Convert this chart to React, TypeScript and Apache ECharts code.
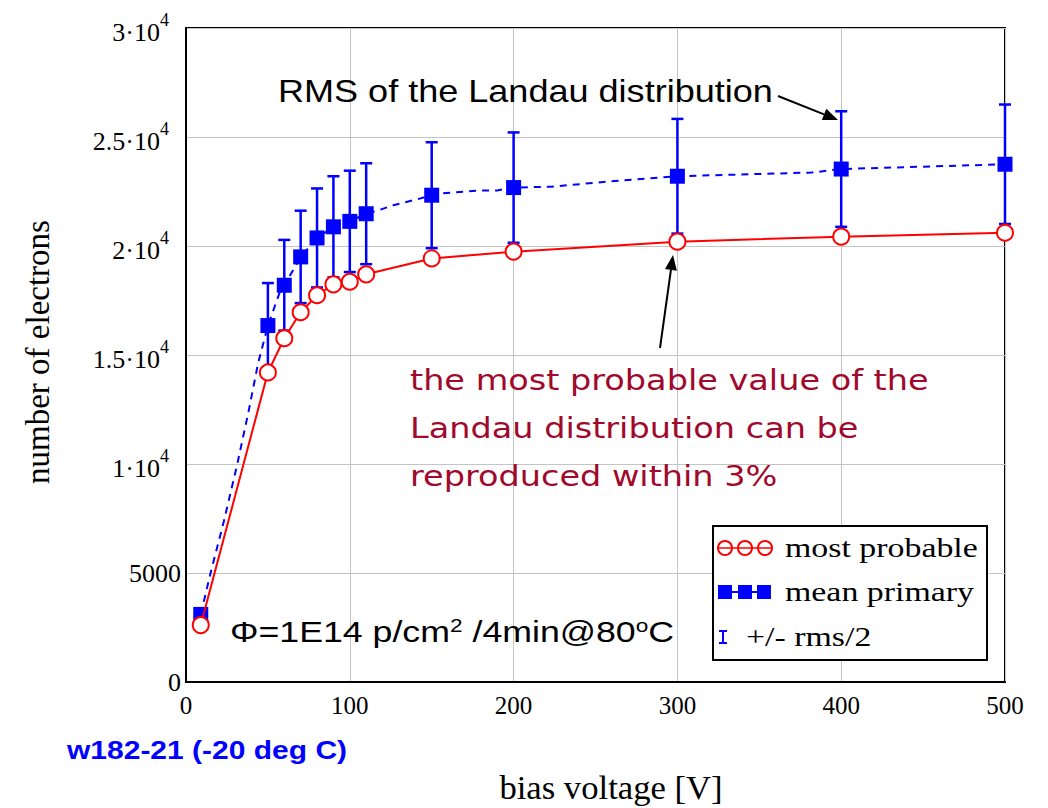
import React, { useEffect, useRef } from "react";
import * as echarts from "echarts";

// ---- data ----
const voltage = [9, 50, 60, 70, 80, 90, 100, 110, 150, 200, 300, 400, 500];
const mostProbable = [2610, 14200, 15770, 16960, 17740, 18240, 18360, 18700, 19430, 19740, 20200, 20430, 20610];
const meanPrimary = [3100, 16350, 18200, 19500, 20370, 20880, 21130, 21480, 22330, 22680, 23200, 23530, 23750];
const halfRms = [null, 1950, 2080, 2120, 2270, 2320, 2325, 2315, 2430, 2530, 2630, 2650, 2740];

// vertices of the dashed (mean primary) curve
const dashedV = [9, 15, 23, 31, 38, 44, 50, 57, 60, 67, 70, 80, 90, 100, 110, 118, 127, 141, 150, 157, 180, 190, 200, 223, 257, 300, 382, 400, 500];
const dashedY = [3100, 5000, 7340, 9890, 12340, 14620, 16350, 17830, 18200, 19100, 19500, 20370, 20880, 21130, 21480, 21650, 21880, 22140, 22330, 22420, 22550, 22550, 22680, 22720, 22950, 23200, 23370, 23530, 23750];

const xTicks = [0, 100, 200, 300, 400, 500];
const yTickLabels = ["0", "5000", "{m|1·10}{e|4}", "{m|1.5·10}{e|4}", "{m|2·10}{e|4}", "{m|2.5·10}{e|4}", "{m|3·10}{e|4}"];

const legendLabels = ["most probable", "mean primary", "+/- rms/2"];
const annotationRms = "RMS of the Landau distribution";
const annotationMp = "the most probable value of the\nLandau distribution can be\nreproduced within 3%";
const sampleLabel = "w182-21 (-20 deg C)";

const BLUE = "#0000ff";
const RED = "#ff0000";
const SERIF = "'Liberation Serif', 'Times New Roman', serif";
const SANS = "'Liberation Sans', Arial, sans-serif";

function arrow(x1: number, y1: number, x2: number, y2: number) {
  const dx = x2 - x1, dy = y2 - y1;
  const len = Math.sqrt(dx * dx + dy * dy);
  const ux = dx / len, uy = dy / len;
  const hl = 15, hw = 6;
  const bx = x2 - ux * hl, by = y2 - uy * hl;
  return [
    { type: "line", shape: { x1, y1, x2: bx, y2: by }, style: { stroke: "#000", lineWidth: 2 }, z: 20 },
    {
      type: "polygon",
      shape: { points: [[x2, y2], [bx - uy * hw, by + ux * hw], [bx + uy * hw, by - ux * hw]] },
      style: { fill: "#000" },
      z: 20,
    },
  ];
}

export default function App() {
  const ref = useRef<HTMLDivElement>(null);
  useEffect(() => {
    const chart = echarts.init(ref.current!, null, { renderer: "svg" });
    const errData = voltage
      .map((v, i) => (halfRms[i] == null ? null : [v, meanPrimary[i] - (halfRms[i] as number), meanPrimary[i] + (halfRms[i] as number)]))
      .filter((d) => d != null);

    const legendX = 713, legendY = 526;
    const legendText = (text: string, x: number, y: number) => ({
      type: "text", x, y, z: 31, scaleX: 1.21,
      style: { text, font: `28px ${SERIF}`, fill: "#000", verticalAlign: "middle" },
    });
    const graphic: any[] = [
      // y axis title
      {
        type: "text", x: 38, y: 352, rotation: Math.PI / 2,
        style: { text: "number of electrons", font: `33px ${SERIF}`, fill: "#000", align: "center", verticalAlign: "middle" },
      },
      // x axis title
      {
        type: "text", x: 611, y: 788, scaleX: 1.05,
        style: { text: "bias voltage [V]", font: `33px ${SERIF}`, fill: "#000", align: "center", verticalAlign: "middle" },
      },
      // sample label
      {
        type: "text", x: 67, y: 750, scaleX: 1.2,
        style: { text: sampleLabel, font: `bold 25px ${SANS}`, fill: BLUE, align: "left", verticalAlign: "middle" },
      },
      // RMS annotation
      {
        type: "text", x: 278, y: 91, scaleX: 1.163, z: 20,
        style: { text: annotationRms, font: `31px ${SANS}`, fill: "#000", align: "left", verticalAlign: "middle" },
      },
      ...arrow(778, 96, 838, 120),
      // most probable annotation
      {
        type: "text", x: 410, y: 356, scaleX: 1.156, z: 20,
        style: { text: annotationMp, font: `29px 'DejaVu Sans', Verdana, sans-serif`, fill: "#a0092c", align: "left", verticalAlign: "top", lineHeight: 48 },
      },
      ...arrow(660, 348, 673, 255),
      // fluence annotation
      {
        type: "text", x: 230, y: 632, scaleX: 1.19, z: 20,
        style: {
          text: "Φ=1E14 p/cm{s|2} /4min@80{s|o}C",
          font: `30px ${SANS}`, fill: "#000", align: "left", verticalAlign: "middle",
          rich: { s: { fontSize: 19, fontFamily: SANS, padding: [0, 0, 14, 0], verticalAlign: "bottom" } },
        },
      },
      // legend
      {
        type: "rect", shape: { x: legendX, y: legendY, width: 274, height: 134 },
        style: { fill: "#fff", stroke: "#000", lineWidth: 2 }, z: 30,
      },
      // row 1 symbols
      ...[725, 745, 765].map((cx) => ({
        type: "circle", shape: { cx, cy: 548, r: 7 }, style: { fill: "none", stroke: RED, lineWidth: 2 }, z: 31,
      })),
      { type: "line", shape: { x1: 717, y1: 548, x2: 773, y2: 548 }, style: { stroke: RED, lineWidth: 1.5 }, z: 31 },
      // row 2 symbols
      { type: "line", shape: { x1: 720, y1: 592, x2: 768, y2: 592 }, style: { stroke: BLUE, lineWidth: 2 }, z: 31 },
      ...[725, 745, 764].map((cx) => ({
        type: "rect", shape: { x: cx - 7, y: 585, width: 14, height: 14 }, style: { fill: BLUE }, z: 31,
      })),
      // row 3 symbol
      { type: "line", shape: { x1: 723, y1: 631, x2: 723, y2: 643 }, style: { stroke: BLUE, lineWidth: 2 }, z: 31 },
      { type: "line", shape: { x1: 719, y1: 631, x2: 727, y2: 631 }, style: { stroke: BLUE, lineWidth: 2 }, z: 31 },
      { type: "line", shape: { x1: 719, y1: 643, x2: 727, y2: 643 }, style: { stroke: BLUE, lineWidth: 2 }, z: 31 },
      legendText(legendLabels[0], 785, 548),
      legendText(legendLabels[1], 785, 592),
      legendText(legendLabels[2], 746, 637),
    ];

    chart.setOption({
      animation: false,
      backgroundColor: "#fff",
      grid: { left: 186, right: 43, top: 28, bottom: 126, show: true, borderColor: "#000", borderWidth: 2, containLabel: false },
      xAxis: {
        type: "value", min: 0, max: 500, interval: 100,
        axisLine: { show: true, lineStyle: { color: "#000", width: 2 } },
        axisTick: { show: false },
        axisLabel: {
          margin: 11, fontFamily: SERIF, fontSize: 25, color: "#000",
          formatter: (v: number) => (xTicks.includes(v) ? String(v) : ""),
        },
        splitLine: { show: true, lineStyle: { color: "#c4c4c4", width: 1 } },
      },
      yAxis: {
        type: "value", min: 0, max: 30000, interval: 5000,
        axisLine: { show: true, lineStyle: { color: "#000", width: 2 } },
        axisTick: { show: false },
        axisLabel: {
          margin: 5, fontFamily: SERIF, fontSize: 26, color: "#000",
          formatter: (v: number) => yTickLabels[Math.round(v / 5000)] ?? "",
          rich: {
            m: { fontFamily: SERIF, fontSize: 26, color: "#000", verticalAlign: "bottom" },
            e: { fontFamily: SERIF, fontSize: 18, color: "#000", verticalAlign: "bottom", padding: [0, 12, 16, 0] },
          },
        },
        splitLine: { show: true, lineStyle: { color: "#c4c4c4", width: 1 } },
      },
      series: [
        {
          name: "mean primary curve",
          type: "line",
          data: dashedV.map((v, i) => [v, dashedY[i]]),
          showSymbol: false,
          lineStyle: { color: BLUE, width: 2, type: [7, 6] },
          z: 2,
        },
        {
          name: "+/- rms/2",
          type: "custom",
          data: errData,
          z: 3,
          renderItem: (_p: any, api: any) => {
            const lo = api.coord([api.value(0), api.value(1)]);
            const hi = api.coord([api.value(0), api.value(2)]);
            const x = lo[0];
            const cw = 6;
            const st = { stroke: BLUE, lineWidth: 2.5 };
            return {
              type: "group",
              children: [
                { type: "line", shape: { x1: x, y1: lo[1], x2: x, y2: hi[1] }, style: st },
                { type: "line", shape: { x1: x - cw, y1: lo[1], x2: x + cw, y2: lo[1] }, style: st },
                { type: "line", shape: { x1: x - cw, y1: hi[1], x2: x + cw, y2: hi[1] }, style: st },
              ],
            };
          },
        },
        {
          name: "mean primary",
          type: "scatter",
          data: voltage.map((v, i) => [v, meanPrimary[i]]),
          symbol: "rect",
          symbolSize: 15,
          itemStyle: { color: BLUE, opacity: 1 },
          z: 4,
        },
        {
          name: "most probable",
          type: "line",
          data: voltage.map((v, i) => [v, mostProbable[i]]),
          symbol: "circle",
          symbolSize: 16,
          showAllSymbol: true,
          itemStyle: { color: "#fff", borderColor: RED, borderWidth: 2 },
          lineStyle: { color: RED, width: 2 },
          z: 5,
        },
      ],
      graphic,
    });
    return () => chart.dispose();
  }, []);
  return <div ref={ref} style={{ position: "fixed", left: 0, top: 0, width: 1048, height: 808 }} />;
}
